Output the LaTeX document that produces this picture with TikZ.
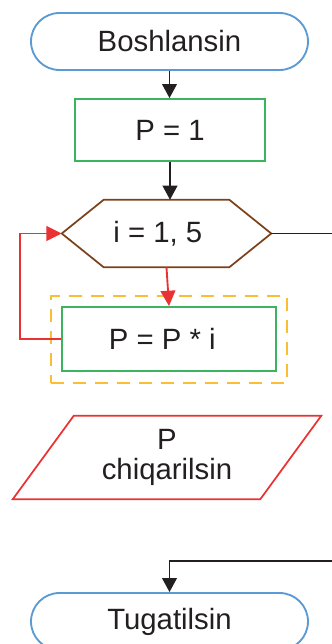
\documentclass[tikz,border=0pt]{standalone}
\usepackage{fontspec}
\setmainfont{Liberation Sans}
\usetikzlibrary{arrows.meta,shapes.misc}
\definecolor{tblue}{RGB}{91,155,213}
\definecolor{tgreen}{RGB}{60,180,95}
\definecolor{tbrown}{RGB}{125,65,25}
\definecolor{tred}{RGB}{235,50,50}
\definecolor{tyellow}{RGB}{250,190,50}
\definecolor{ttext}{RGB}{35,31,32}
\begin{document}
\begin{tikzpicture}[x=0.75pt,y=-0.75pt,
  every node/.style={font=\fontsize{22}{22.5}\selectfont, text=ttext, inner sep=0pt},
  term/.style={rounded rectangle, draw=tblue, line width=1.4pt, minimum width=207.75pt, minimum height=42.75pt},
  proc/.style={rectangle, draw=tgreen, line width=1.4pt, minimum width=142.5pt, minimum height=46.5pt},
  hexn/.style={rectangle, minimum width=156.75pt, minimum height=50.25pt},
  hexline/.style={draw=tbrown, line width=1.3pt, line join=round},
  groupbox/.style={rectangle, draw=tyellow, line width=1.3pt, dash pattern=on 9.5pt off 7pt, minimum width=177pt, minimum height=65.25pt},
  outn/.style={rectangle, minimum width=185.25pt, minimum height=62.25pt, align=center},
  outline/.style={draw=tred, line width=1.3pt},
  conn/.style={draw=ttext, line width=1.4pt, -{Triangle[length=10.5pt,width=11pt]}},
  plainline/.style={draw=ttext, line width=1.4pt},
  redconn/.style={draw=tred, line width=1.4pt, -{Triangle[length=11.5pt,width=11pt]}}
]
\useasboundingbox (0,0) rectangle (332,644);
\clip (0,0) rectangle (332,644);

\node[term] (start) at (169.5,41.5) {Boshlansin};
\node[proc] (p1) at (170,130) {P = 1};
\node[hexn] (loop) at (166.5,233.5) {i = 1, 5\hspace*{13pt}};
\draw[hexline] (loop.west) -- ([xshift=31.5pt]loop.north west) -- ([xshift=-31.5pt]loop.north east) -- (loop.east) -- ([xshift=-31.5pt]loop.south east) -- ([xshift=31.5pt]loop.south west) -- cycle;
\node[groupbox] (group) at (169,339.5) {};
\node[proc, minimum width=160.5pt, minimum height=48pt] (body) at (169,339) {P = P * i\hspace*{10pt}};
\node[outn] (out) at (167,457.5) {P\\chiqarilsin};
\draw[outline] ([xshift=-22.875pt]out.south west) -- ([xshift=22.875pt]out.north west) -- ([xshift=22.875pt]out.north east) -- ([xshift=-22.875pt]out.south east) -- cycle;
\node[term] (end) at (169.5,621.5) {Tugatilsin};

\coordinate (r1) at (336,233.5);
\coordinate (r2) at (336,561);

\draw[conn] (start.south) -- (start.south |- p1.north);
\draw[conn] (p1.south) -- (p1.south |- loop.north);
\draw[plainline] (loop.east) -- (r1);
\draw[redconn] (loop.south) -- (body.north);
\draw[redconn] (body.west) -- ++(-41,0) |- (loop.west);
\draw[conn] (r2) -| (end.north);
\end{tikzpicture}
\end{document}
